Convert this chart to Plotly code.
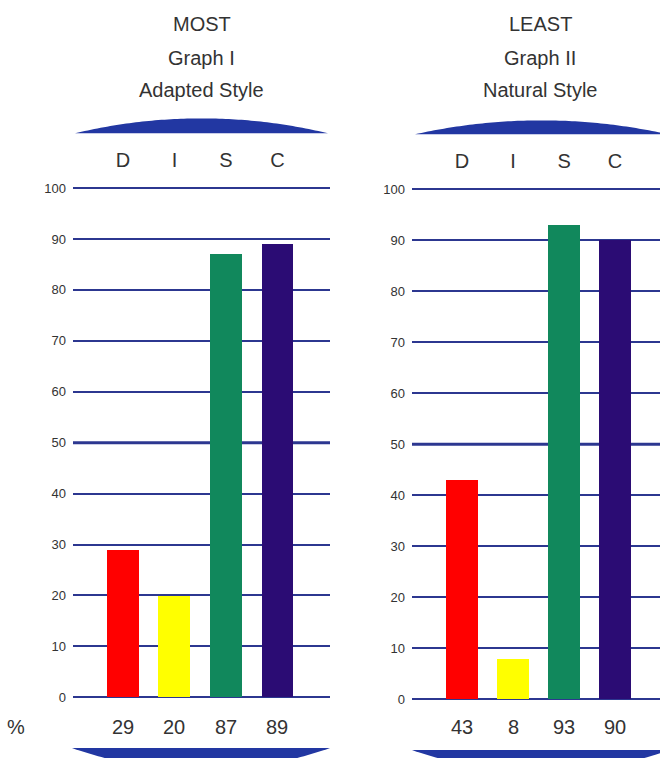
import numpy as np
import plotly.graph_objects as go

# DISC profile scores
categories = ["D", "I", "S", "C"]
most_values = [29, 20, 87, 89]    # Graph I - Adapted Style
least_values = [43, 8, 93, 90]    # Graph II - Natural Style
y_ticks = [0, 10, 20, 30, 40, 50, 60, 70, 80, 90, 100]

bar_colors = ["#ff0000", "#ffff00", "#11885c", "#2b0c74"]
grid_color = "#2c3790"
arc_color = "#2237a2"
text_color = "#333333"
font_family = "Liberation Sans, Arial, Helvetica, sans-serif"

W, H = 660, 758


def px(x):
    return x / W


def py(y):
    return 1 - y / H


def segment_path(x0, x1, chord_y, depth, upward):
    """Circular segment in pixel space -> SVG path in paper coords."""
    c = (x1 - x0) / 2
    cx = (x0 + x1) / 2
    r = (c * c + depth * depth) / (2 * depth)
    xs = np.linspace(x0, x1, 80)
    off = np.sqrt(np.maximum(r * r - (xs - cx) ** 2, 0)) - (r - depth)
    ys = chord_y - off if upward else chord_y + off
    pts = [f"{px(x):.5f},{py(y):.5f}" for x, y in zip(xs, ys)]
    return "M" + " L".join(pts) + " Z"


fig = go.Figure()

panels = [
    dict(vals=most_values, xa="x", ya="y", dom=[px(73), px(330)], rng=[-0.97, 4.02],
         ydom=[py(704.1), py(181.9)]),
    dict(vals=least_values, xa="x2", ya="y2", dom=[px(412), 1.0], rng=[-0.98, 3.88],
         ydom=[py(706.1), py(182.9)]),
]

for p in panels:
    fig.add_trace(go.Bar(
        x=categories, y=p["vals"], xaxis=p["xa"], yaxis=p["ya"],
        marker=dict(color=bar_colors, line=dict(width=0)),
        width=0.62, showlegend=False, hoverinfo="skip",
    ))

axis_common_y = dict(
    range=[-1, 101], tickvals=y_ticks, showgrid=True, gridcolor=grid_color,
    gridwidth=1.6, zeroline=False, showline=False, ticks="",
    tickfont=dict(size=13, color=text_color, family=font_family),
    ticklabelstandoff=6, fixedrange=True,
)
axis_common_x = dict(
    type="category", side="top", showgrid=False, zeroline=False, showline=False,
    ticks="", tickfont=dict(size=20, color=text_color, family=font_family),
    ticklabelstandoff=11, fixedrange=True,
)

fig.update_layout(
    width=W, height=H,
    margin=dict(l=0, r=0, t=0, b=0),
    paper_bgcolor="white", plot_bgcolor="white",
    bargap=0,
    xaxis=dict(domain=panels[0]["dom"], range=panels[0]["rng"], anchor="y", **axis_common_x),
    yaxis=dict(domain=panels[0]["ydom"], anchor="x", **axis_common_y),
    xaxis2=dict(domain=panels[1]["dom"], range=panels[1]["rng"], anchor="y2", **axis_common_x),
    yaxis2=dict(domain=panels[1]["ydom"], anchor="x2", **axis_common_y),
)

shapes = []
# heavier midline at 50, kept behind the bars
for xa, ya in [("x", "y"), ("x2", "y2")]:
    shapes.append(dict(type="line", xref=f"{xa} domain", yref=ya, x0=0, x1=1, y0=50, y1=50,
                       line=dict(color=grid_color, width=3), layer="below"))

# decorative caps above and below each chart
shapes.append(dict(type="path", xref="paper", yref="paper",
                   path=segment_path(75, 328, 132, 15, True),
                   fillcolor=arc_color, line=dict(width=0)))
shapes.append(dict(type="path", xref="paper", yref="paper",
                   path=segment_path(415, 668, 133, 14, True),
                   fillcolor=arc_color, line=dict(width=0)))
shapes.append(dict(type="path", xref="paper", yref="paper",
                   path=segment_path(72, 330, 750, 22, False),
                   fillcolor=arc_color, line=dict(width=0)))
shapes.append(dict(type="path", xref="paper", yref="paper",
                   path=segment_path(412, 670, 752, 22, False),
                   fillcolor=arc_color, line=dict(width=0)))
fig.update_layout(shapes=shapes)

annotations = []
titles = [(px(202), ["MOST", "Graph I", "Adapted Style"]),
          (px(540), ["LEAST", "Graph II", "Natural Style"])]
for xc, lines in titles:
    for line, yc in zip(lines, [22, 56, 88]):
        annotations.append(dict(x=xc, y=py(yc), xref="paper", yref="paper", text=line,
                                showarrow=False, xanchor="center", yanchor="middle",
                                font=dict(size=20, color=text_color, family=font_family)))

# score row under each chart
for p in panels:
    for cat, v in zip(categories, p["vals"]):
        annotations.append(dict(x=cat, y=py(729), xref=p["xa"], yref="paper", text=str(v),
                                showarrow=False, xanchor="center", yanchor="middle",
                                font=dict(size=20, color=text_color, family=font_family)))
annotations.append(dict(x=px(16), y=py(729), xref="paper", yref="paper", text="%",
                        showarrow=False, xanchor="center", yanchor="middle",
                        font=dict(size=20, color=text_color, family=font_family)))
fig.update_layout(annotations=annotations)

fig.write_html("out.html")
